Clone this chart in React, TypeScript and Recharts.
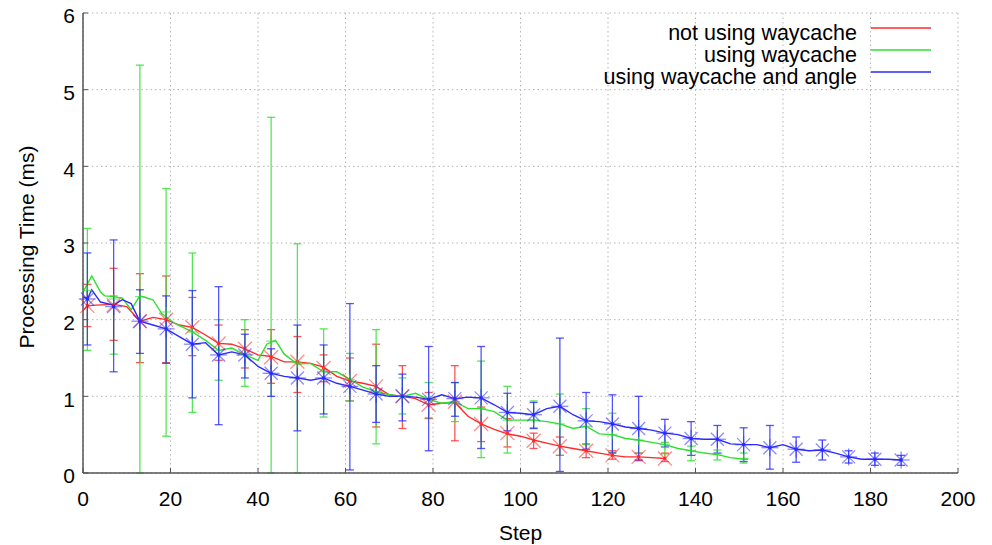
import React from 'react';
import {
  ComposedChart,
  Line,
  Scatter,
  XAxis,
  YAxis,
  CartesianGrid,
  ErrorBar,
  Customized,
} from 'recharts';

const FONT = '"Liberation Sans", Arial, Helvetica, sans-serif';
const RED = '#ff2a2a';
const GREEN = '#2ee02e';
const BLUE = '#2a2aff';

const xTicks = [0, 20, 40, 60, 80, 100, 120, 140, 160, 180, 200];
const yTicks = [0, 1, 2, 3, 4, 5, 6];
const legendLabels = ['not using waycache', 'using waycache', 'using waycache and angle'];

// steps at which error bars / markers are drawn
const markerSteps = [1, 7, 13, 19, 25, 31, 37, 43, 49, 55, 61, 67, 73, 79, 85, 91, 97, 103, 109, 115, 121, 127, 133, 139, 145, 151, 157, 163, 169, 175, 181, 187];

// not using waycache (red)
const redMean = [2.18, 2.19, 1.98, 2.0, 1.9, 1.69, 1.62, 1.51, 1.45, 1.37, 1.2, 1.13, 1.0, 0.89, 0.93, 0.64, 0.52, 0.42, 0.35, 0.29, 0.23, 0.21, 0.19];
const redLow = [1.91, 1.73, 1.44, 1.44, 1.53, 1.47, 1.37, 1.17, 1.05, 1.19, 0.94, 0.6, 0.58, 0.71, 0.42, 0.41, 0.34, 0.32, 0.23, 0.2, 0.18, 0.16, 0.15];
const redHigh = [2.46, 2.67, 2.6, 2.57, 2.29, 1.93, 1.87, 1.87, 1.78, 1.54, 1.5, 1.68, 1.4, 1.05, 1.4, 0.86, 0.71, 0.52, 0.47, 0.38, 0.29, 0.26, 0.26];
const redLineSteps = [0, 1, 3, 7, 10, 13, 16, 19, 22, 25, 28, 31, 34, 37, 40, 43, 46, 49, 52, 55, 58, 61, 64, 67, 70, 73, 76, 79, 82, 85, 88, 91, 94, 97, 100, 103, 106, 109, 112, 115, 118, 121, 124, 127, 130, 133];
const redLineVals = [2.12, 2.18, 2.19, 2.2, 2.17, 1.98, 2.03, 2.0, 1.93, 1.9, 1.8, 1.69, 1.68, 1.62, 1.54, 1.52, 1.45, 1.45, 1.43, 1.38, 1.26, 1.2, 1.17, 1.13, 1.02, 1.0, 0.97, 0.89, 0.91, 0.92, 0.74, 0.64, 0.57, 0.51, 0.48, 0.43, 0.39, 0.35, 0.32, 0.29, 0.26, 0.23, 0.21, 0.21, 0.2, 0.19];

// using waycache (green)
const greenMean = [2.38, 2.27, 2.3, 2.1, 1.84, 1.6, 1.55, 1.72, 1.44, 1.32, 1.22, 1.06, 1.0, 0.96, 0.93, 0.84, 0.69, 0.69, 0.64, 0.61, 0.5, 0.43, 0.37, 0.29, 0.25, 0.19];
const greenLow = [1.6, 1.55, 0.0, 0.48, 0.79, 1.21, 1.13, 0.0, 0.0, 0.73, 0.94, 0.38, 0.77, 0.72, 0.67, 0.2, 0.26, 0.59, 0.23, 0.37, 0.27, 0.26, 0.25, 0.16, 0.17, 0.13];
const greenHigh = [3.19, 2.31, 5.32, 3.71, 2.87, 2.0, 2.0, 4.64, 2.99, 1.88, 1.56, 1.87, 1.24, 1.18, 1.18, 1.46, 1.13, 0.94, 1.03, 0.84, 0.78, 0.6, 0.4, 0.35, 0.3, 0.26];
const greenLineSteps = [0, 2, 4, 5, 7, 9, 11, 13, 16, 18, 21, 25, 28, 31, 34, 37, 40, 42, 44, 46, 49, 52, 55, 58, 61, 64, 67, 70, 73, 76, 79, 82, 85, 88, 91, 94, 97, 100, 103, 106, 109, 112, 115, 118, 121, 124, 127, 130, 133, 136, 139, 142, 145, 148, 151, 152];
const greenLineVals = [2.36, 2.57, 2.36, 2.31, 2.3, 2.28, 2.13, 2.31, 2.26, 2.08, 1.95, 1.84, 1.73, 1.6, 1.63, 1.54, 1.47, 1.68, 1.73, 1.55, 1.42, 1.43, 1.32, 1.32, 1.22, 1.12, 1.06, 1.02, 1.0, 1.04, 0.96, 0.91, 0.93, 0.84, 0.84, 0.8, 0.69, 0.69, 0.69, 0.67, 0.64, 0.58, 0.61, 0.51, 0.5, 0.45, 0.43, 0.4, 0.37, 0.32, 0.29, 0.26, 0.24, 0.2, 0.18, 0.18];

// using waycache and angle (blue)
const blueMean = [2.27, 2.17, 1.98, 1.88, 1.68, 1.54, 1.54, 1.3, 1.24, 1.24, 1.13, 1.03, 1.0, 0.96, 0.97, 0.98, 0.79, 0.76, 0.87, 0.68, 0.64, 0.58, 0.52, 0.45, 0.44, 0.37, 0.33, 0.31, 0.3, 0.21, 0.18, 0.17];
const blueLow = [1.67, 1.32, 1.56, 1.43, 0.98, 0.63, 1.24, 1.0, 0.55, 0.77, 0.04, 0.66, 0.68, 0.29, 0.74, 0.32, 0.55, 0.58, 0.02, 0.31, 0.26, 0.17, 0.34, 0.23, 0.26, 0.15, 0.05, 0.14, 0.17, 0.13, 0.1, 0.1];
const blueHigh = [2.87, 3.04, 2.39, 2.31, 2.38, 2.43, 1.81, 1.62, 1.93, 1.67, 2.21, 1.4, 1.29, 1.65, 1.18, 1.65, 1.04, 0.92, 1.76, 1.05, 1.02, 1.0, 0.7, 0.67, 0.62, 0.59, 0.62, 0.47, 0.43, 0.29, 0.26, 0.23];
const blueLineSteps = [0, 1, 2, 4, 7, 9, 11, 13, 16, 19, 22, 25, 28, 31, 34, 37, 40, 43, 46, 49, 52, 55, 58, 61, 64, 67, 70, 73, 76, 79, 82, 85, 88, 91, 94, 97, 100, 103, 106, 109, 112, 115, 118, 121, 124, 127, 130, 133, 136, 139, 142, 145, 148, 151, 154, 157, 160, 163, 166, 169, 172, 175, 178, 181, 184, 187];
const blueLineVals = [2.3, 2.27, 2.39, 2.23, 2.19, 2.26, 2.21, 1.98, 1.93, 1.88, 1.78, 1.68, 1.7, 1.54, 1.58, 1.54, 1.39, 1.3, 1.26, 1.24, 1.21, 1.24, 1.17, 1.13, 1.08, 1.03, 1.0, 1.0, 0.99, 0.96, 1.02, 0.97, 0.99, 0.98, 0.89, 0.79, 0.78, 0.76, 0.84, 0.87, 0.76, 0.68, 0.67, 0.64, 0.6, 0.58, 0.56, 0.52, 0.5, 0.45, 0.44, 0.44, 0.38, 0.37, 0.37, 0.33, 0.37, 0.31, 0.29, 0.3, 0.26, 0.21, 0.18, 0.18, 0.18, 0.17];

const toLine = (steps: number[], vals: number[]) => steps.map((x, i) => ({ x, y: vals[i] }));
const toMarkers = (mean: number[], low: number[], high: number[]) =>
  mean.map((y, i) => ({ x: markerSteps[i], y, err: [y - low[i], high[i] - y] }));

const redLine = toLine(redLineSteps, redLineVals);
const greenLine = toLine(greenLineSteps, greenLineVals);
const blueLine = toLine(blueLineSteps, blueLineVals);
const redMarks = toMarkers(redMean, redLow, redHigh);
const greenMarks = toMarkers(greenMean, greenLow, greenHigh);
const blueMarks = toMarkers(blueMean, blueLow, blueHigh);

const CrossMark = (props: any) => {
  const { cx, cy } = props;
  const r = 7;
  return (
    <g stroke={RED} strokeWidth={1.3} strokeOpacity={0.55}>
      <line x1={cx - r} y1={cy - r} x2={cx + r} y2={cy + r} />
      <line x1={cx - r} y1={cy + r} x2={cx + r} y2={cy - r} />
      <rect x={cx - 1.5} y={cy - 1.5} width={3} height={3} fill={RED} stroke="none" />
    </g>
  );
};
const PlusMark = (props: any) => {
  const { cx, cy } = props;
  const r = 5;
  return (
    <g stroke={GREEN} strokeWidth={1.3} strokeOpacity={0.6}>
      <line x1={cx - r} y1={cy} x2={cx + r} y2={cy} />
      <line x1={cx} y1={cy - r} x2={cx} y2={cy + r} />
    </g>
  );
};
const StarMark = (props: any) => {
  const { cx, cy } = props;
  const r = 8.5;
  const d = 6.5;
  return (
    <g stroke={BLUE} strokeWidth={1.3} strokeOpacity={0.55}>
      <line x1={cx - r} y1={cy} x2={cx + r} y2={cy} />
      <line x1={cx} y1={cy - r} x2={cx} y2={cy + r} />
      <line x1={cx - d} y1={cy - d} x2={cx + d} y2={cy + d} />
      <line x1={cx - d} y1={cy + d} x2={cx + d} y2={cy - d} />
      <rect x={cx - 1.5} y={cy - 1.5} width={3} height={3} fill={BLUE} stroke="none" />
    </g>
  );
};

const legendColors = [RED, GREEN, BLUE];
const LegendBox = () => (
  <g fontFamily={FONT} fontSize={21.5} fill="#000">
    {legendLabels.map((t, i) => (
      <g key={t}>
        <text x={857} y={40 + 22 * i} textAnchor="end">
          {t}
        </text>
        <line x1={871} x2={931} y1={28 + 22 * i} y2={28 + 22 * i} stroke={legendColors[i]} strokeWidth={1.3} />
      </g>
    ))}
  </g>
);

const YLabel = (props: any) => {
  const vb = props.viewBox || { x: 0, y: 13, width: 83, height: 460 };
  const cx = vb.x + 26;
  const cy = vb.y + vb.height / 2 + 4;
  return (
    <text
      x={cx}
      y={cy}
      transform={`rotate(-90 ${cx} ${cy})`}
      textAnchor="middle"
      dominantBaseline="central"
      fontFamily={FONT}
      fontSize={21}
      fill="#000"
    >
      Processing Time (ms)
    </text>
  );
};

const AXIS = '#555';
const tickStyle = { fontFamily: FONT, fontSize: 21, fill: '#000' };

export default function App() {
  return (
    <div style={{ position: 'absolute', left: 0, top: 0, width: 992, height: 545, background: '#fff' }}>
      <ComposedChart width={992} height={545} margin={{ top: 13, right: 34, bottom: 0, left: 0 }}>
        <CartesianGrid stroke="#b5b5b5" strokeDasharray="1.5 3" />
        <XAxis
          type="number"
          dataKey="x"
          domain={[0, 200]}
          ticks={xTicks}
          height={72}
          tickSize={-5}
          tickMargin={23}
          axisLine={{ stroke: AXIS, strokeWidth: 1.5 }}
          tickLine={{ stroke: AXIS }}
          tick={tickStyle}
          label={{ value: 'Step', position: 'insideBottom', offset: 5, fontFamily: FONT, fontSize: 21, fill: '#000' }}
        />
        <XAxis
          xAxisId="top"
          orientation="top"
          type="number"
          dataKey="x"
          domain={[0, 200]}
          ticks={xTicks}
          height={0}
          tickSize={-5}
          tickFormatter={() => ''}
          axisLine={{ stroke: AXIS, strokeWidth: 1.5 }}
          tickLine={{ stroke: AXIS }}
        />
        <YAxis
          type="number"
          domain={[0, 6]}
          ticks={yTicks}
          width={83}
          tickSize={-5}
          tickMargin={13}
          axisLine={{ stroke: AXIS, strokeWidth: 1.5 }}
          tickLine={{ stroke: AXIS }}
          tick={{ ...tickStyle, dy: 3 }}
          label={{ content: (p: any) => <YLabel {...p} /> }}
        />
        <YAxis
          yAxisId="right"
          orientation="right"
          type="number"
          domain={[0, 6]}
          ticks={yTicks}
          width={0}
          tickSize={-5}
          tickFormatter={() => ''}
          axisLine={{ stroke: AXIS, strokeWidth: 1.5 }}
          tickLine={{ stroke: AXIS }}
        />

        <Line data={redLine} dataKey="y" type="linear" stroke={RED} strokeWidth={1.4} dot={false} isAnimationActive={false} />
        <Scatter data={redMarks} dataKey="y" shape={CrossMark} isAnimationActive={false}>
          <ErrorBar dataKey="err" direction="y" width={4} stroke={RED} strokeWidth={1.3} strokeOpacity={0.8} isAnimationActive={false} />
        </Scatter>

        <Line data={greenLine} dataKey="y" type="linear" stroke={GREEN} strokeWidth={1.4} dot={false} isAnimationActive={false} />
        <Scatter data={greenMarks} dataKey="y" shape={PlusMark} isAnimationActive={false}>
          <ErrorBar dataKey="err" direction="y" width={4} stroke={GREEN} strokeWidth={1.3} strokeOpacity={0.8} isAnimationActive={false} />
        </Scatter>

        <Line data={blueLine} dataKey="y" type="linear" stroke={BLUE} strokeWidth={1.4} dot={false} isAnimationActive={false} />
        <Scatter data={blueMarks} dataKey="y" shape={StarMark} isAnimationActive={false}>
          <ErrorBar dataKey="err" direction="y" width={4} stroke={BLUE} strokeWidth={1.3} strokeOpacity={0.8} isAnimationActive={false} />
        </Scatter>

        <Customized component={LegendBox} />
      </ComposedChart>
    </div>
  );
}
